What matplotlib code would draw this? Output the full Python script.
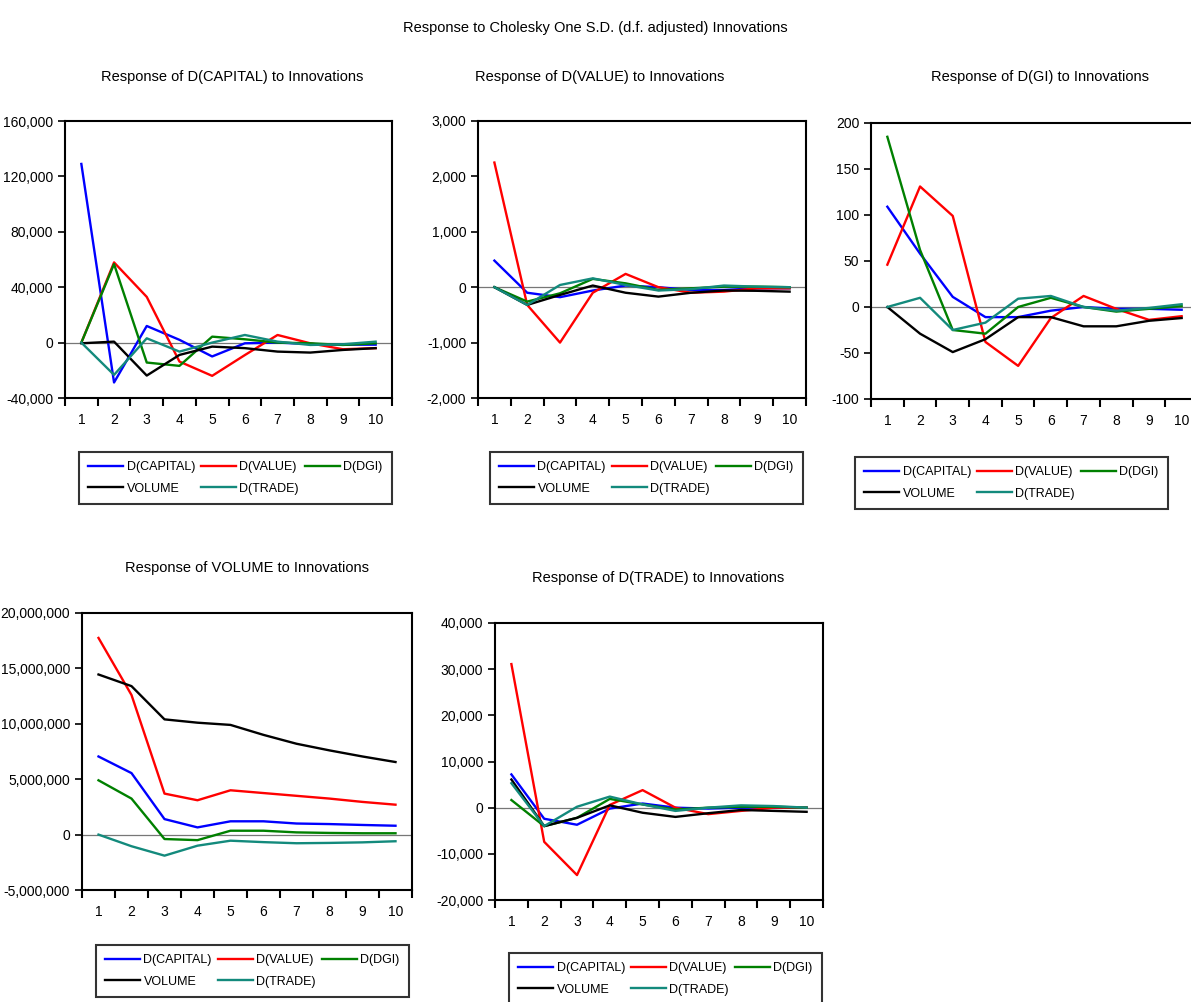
import matplotlib.pyplot as plt
from matplotlib.ticker import FuncFormatter

plt.rcParams['font.family'] = ['Liberation Sans Narrow', 'Liberation Sans', 'DejaVu Sans']
plt.rcParams['font.size'] = 10

periods = [1, 2, 3, 4, 5, 6, 7, 8, 9, 10]
names = ['D(CAPITAL)', 'D(VALUE)', 'D(DGI)', 'VOLUME', 'D(TRADE)']
colors = ['#0000ff', '#ff0000', '#008000', '#000000', '#138a7c']

# Response of D(CAPITAL)
cap_capital = [129000, -28800, 12000, 2000, -10000, -500, 0, -1000, -1500, -1500]
cap_value = [0, 57900, 33000, -13700, -24000, -9000, 5500, -500, -4800, -4000]
cap_dgi = [0, 56700, -14400, -16800, 4300, 2400, 0, -500, -1700, -500]
cap_volume = [-500, 700, -23800, -8900, -2900, -4000, -6500, -7200, -5300, -4000]
cap_trade = [0, -23300, 3100, -6500, 0, 5500, 700, -1700, -1200, 700]

# Response of D(VALUE)
val_capital = [480, -100, -180, -60, 30, 0, -50, -50, -20, -20]
val_value = [2250, -320, -1000, -100, 240, 0, -100, -80, -20, -20]
val_dgi = [0, -260, -110, 150, 70, -50, -20, 10, 10, 0]
val_volume = [0, -320, -140, 30, -100, -170, -100, -60, -65, -80]
val_trade = [0, -320, 40, 160, 40, -60, -35, 30, 10, 0]

# Response of D(GI)
gi_capital = [109, 58, 11, -11, -11, -4, 0, -2, -2, -3]
gi_value = [46, 131, 99, -38, -64, -12, 12, -2, -14, -10]
gi_dgi = [185, 62, -25, -29, 0, 10, 0, -5, -2, 1]
gi_volume = [0, -29, -49, -35, -11, -11, -21, -21, -15, -12]
gi_trade = [0, 10, -25, -17, 9, 12, 0, -4, -1, 3]

# Response of VOLUME
vol_capital = [7050000, 5550000, 1400000, 650000, 1200000, 1200000, 1000000, 950000, 870000, 800000]
vol_value = [17750000, 12600000, 3700000, 3100000, 4000000, 3750000, 3500000, 3250000, 2950000, 2700000]
vol_dgi = [4900000, 3250000, -400000, -500000, 350000, 350000, 200000, 150000, 120000, 120000]
vol_volume = [14450000, 13400000, 10400000, 10100000, 9900000, 9000000, 8200000, 7600000, 7050000, 6550000]
vol_trade = [0, -1050000, -1900000, -1000000, -550000, -680000, -780000, -750000, -700000, -600000]

# Response of D(TRADE)
tr_capital = [7200, -2400, -3700, -200, 900, 0, -200, 0, 0, 0]
tr_value = [31100, -7400, -14600, 600, 3800, 0, -1400, -700, 0, 0]
tr_dgi = [1650, -4000, -2200, 1900, 700, -400, 0, 200, 200, 0]
tr_volume = [6100, -4000, -2200, 500, -1100, -2000, -1200, -500, -700, -900]
tr_trade = [5300, -4000, 200, 2400, 700, -700, 0, 500, 350, 0]

W, H = 1191, 1002
fig = plt.figure(figsize=(W / 100, H / 100), dpi=100)


def px_axes(left, top, right, bottom):
    return fig.add_axes([left / W, 1 - bottom / H, (right - left) / W, (bottom - top) / H])


def draw_panel(box, title, title_xy, series, ylim, yticks, legend_xy):
    ax = px_axes(*box)
    ax.axhline(0, color='#777777', lw=0.9, zorder=1)
    handles = []
    for vals, name, col in zip(series, names, colors):
        h, = ax.plot(periods, vals, color=col, lw=1.7, label=name, zorder=2)
        handles.append(h)
    ax.set_xlim(0.5, 10.5)
    ax.set_ylim(*ylim)
    ax.set_yticks(yticks)
    ax.yaxis.set_major_formatter(FuncFormatter(lambda v, p: '{:,.0f}'.format(v)))
    # EViews style: tick marks between periods, labels centered
    ax.set_xticks([i + 0.5 for i in range(0, 11)])
    ax.set_xticklabels([])
    ax.set_xticks(periods, minor=True)
    ax.set_xticklabels([str(p) for p in periods], minor=True)
    ax.tick_params(axis='x', which='major', direction='out', length=6, width=1.5)
    ax.tick_params(axis='x', which='minor', length=0, pad=11, labelsize=10)
    ax.tick_params(axis='y', direction='out', length=5, width=1.2, labelsize=10)
    for s in ax.spines.values():
        s.set_linewidth(1.5)
    fig.text(title_xy[0] / W, 1 - title_xy[1] / H, title, ha='center', va='center', fontsize=10.5)
    order = [0, 3, 1, 4, 2]
    leg = ax.legend([handles[i] for i in order], [names[i] for i in order], ncol=3,
                    loc='upper left', bbox_to_anchor=(legend_xy[0] / W, 1 - legend_xy[1] / H),
                    bbox_transform=fig.transFigure, borderaxespad=0, frameon=True, fancybox=False,
                    fontsize=9, handlelength=2.8, handletextpad=0.25, columnspacing=0.5,
                    labelspacing=0.75, borderpad=0.75)
    leg.get_frame().set_edgecolor('black')
    leg.get_frame().set_linewidth(1.5)
    return ax


fig.text(0.5, 1 - 28 / H, 'Response to Cholesky One S.D. (d.f. adjusted) Innovations',
         ha='center', va='center', fontsize=10.5)

draw_panel((65, 121, 392, 398), 'Response of D(CAPITAL) to Innovations', (232, 77),
           [cap_capital, cap_value, cap_dgi, cap_volume, cap_trade],
           (-40000, 160000), [-40000, 0, 40000, 80000, 120000, 160000], (79, 452))

draw_panel((478, 121, 806, 398), 'Response of D(VALUE) to Innovations', (600, 77),
           [val_capital, val_value, val_dgi, val_volume, val_trade],
           (-2000, 3000), [-2000, -1000, 0, 1000, 2000, 3000], (490, 452))

draw_panel((871, 123, 1198, 399), 'Response of D(GI) to Innovations', (1040, 77),
           [gi_capital, gi_value, gi_dgi, gi_volume, gi_trade],
           (-100, 200), [-100, -50, 0, 50, 100, 150, 200], (855, 457))

draw_panel((82, 613, 412, 890), 'Response of VOLUME to Innovations', (247, 568),
           [vol_capital, vol_value, vol_dgi, vol_volume, vol_trade],
           (-5000000, 20000000), [-5000000, 0, 5000000, 10000000, 15000000, 20000000], (96, 945))

draw_panel((495, 623, 823, 900), 'Response of D(TRADE) to Innovations', (658, 578),
           [tr_capital, tr_value, tr_dgi, tr_volume, tr_trade],
           (-20000, 40000), [-20000, -10000, 0, 10000, 20000, 30000, 40000], (509, 953))

fig.savefig('out.png', dpi=100)
